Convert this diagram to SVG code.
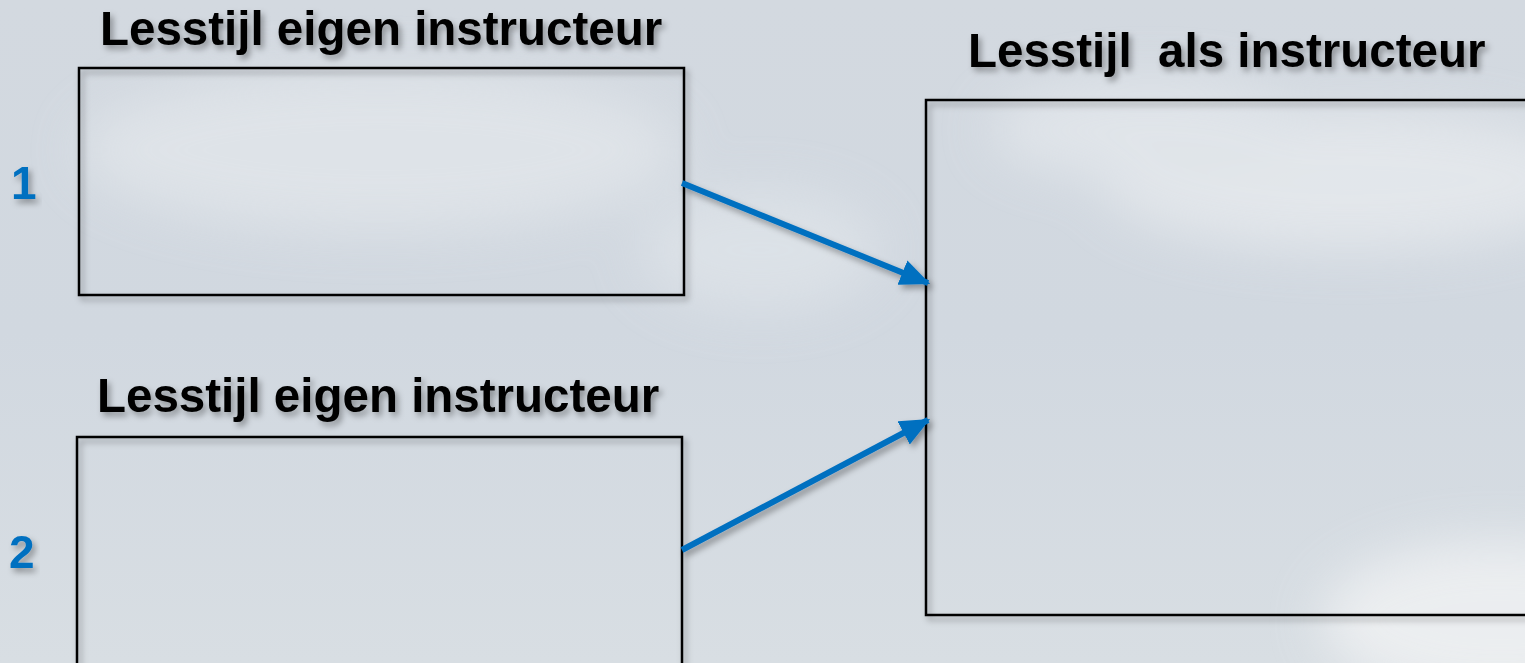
<svg xmlns="http://www.w3.org/2000/svg" width="1525" height="663" viewBox="0 0 1525 663">
  <defs>
    <style>
      .title { font-family: "Liberation Sans", Arial, sans-serif; font-weight: bold; font-size: 47.5px; fill: #000; }
      .num { font-family: "Liberation Sans", Arial, sans-serif; font-weight: bold; font-size: 46px; fill: #0070c0; }
      .box { fill: none; stroke: #000; stroke-width: 2.5; }
      .conn { stroke: #0070c0; stroke-width: 6; fill: none; }
    </style>
    <linearGradient id="sky" x1="0" y1="0" x2="0" y2="1">
      <stop offset="0" stop-color="#d3d9e0"/>
      <stop offset="0.5" stop-color="#d1d8e0"/>
      <stop offset="1" stop-color="#d8dee3"/>
    </linearGradient>
    <filter id="blur" x="-50%" y="-50%" width="200%" height="200%">
      <feGaussianBlur stdDeviation="25"/>
    </filter>
    <filter id="shadow" x="-10%" y="-20%" width="130%" height="160%">
      <feDropShadow dx="3" dy="4" stdDeviation="3" flood-color="#000" flood-opacity="0.35"/>
    </filter>
    <marker id="arrow" markerWidth="5" markerHeight="4.4" refX="4.6" refY="2.2" orient="auto" markerUnits="strokeWidth">
      <path d="M0,0 L5,2.2 L0,4.4 Z" fill="#0070c0"/>
    </marker>
  </defs>

  <!-- background sky -->
  <rect x="0" y="0" width="1525" height="663" fill="url(#sky)"/>
  <g filter="url(#blur)" opacity="0.7">
    <ellipse cx="380" cy="150" rx="300" ry="80" fill="#e4e8ec"/>
    <ellipse cx="1350" cy="180" rx="250" ry="70" fill="#eaedf0"/>
    <ellipse cx="1150" cy="130" rx="160" ry="50" fill="#e6eaee"/>
    <ellipse cx="1500" cy="620" rx="180" ry="80" fill="#f4f5f6"/>
    <ellipse cx="760" cy="250" rx="120" ry="60" fill="#e0e5ea"/>
  </g>

  <!-- node: box 1 -->
  <g id="node-box1">
    <text class="title" x="100" y="45" filter="url(#shadow)">Lesstijl eigen instructeur</text>
    <rect class="box" x="79" y="68" width="605" height="227" filter="url(#shadow)"/>
    <text class="num" x="11" y="199" filter="url(#shadow)">1</text>
  </g>

  <!-- node: box 2 -->
  <g id="node-box2">
    <text class="title" x="97" y="412" filter="url(#shadow)">Lesstijl eigen instructeur</text>
    <rect class="box" x="77" y="437" width="605" height="240" filter="url(#shadow)"/>
    <text class="num" x="9" y="568" filter="url(#shadow)">2</text>
  </g>

  <!-- node: box 3 -->
  <g id="node-box3">
    <text class="title" x="968" y="67" filter="url(#shadow)" xml:space="preserve">Lesstijl  als instructeur</text>
    <rect class="box" x="926" y="100" width="620" height="515" filter="url(#shadow)"/>
  </g>

  <!-- connectors -->
  <g id="connectors" filter="url(#shadow)">
    <line class="conn" x1="682" y1="183" x2="928" y2="283" marker-end="url(#arrow)"/>
    <line class="conn" x1="682" y1="550" x2="928" y2="420" marker-end="url(#arrow)"/>
  </g>
</svg>
